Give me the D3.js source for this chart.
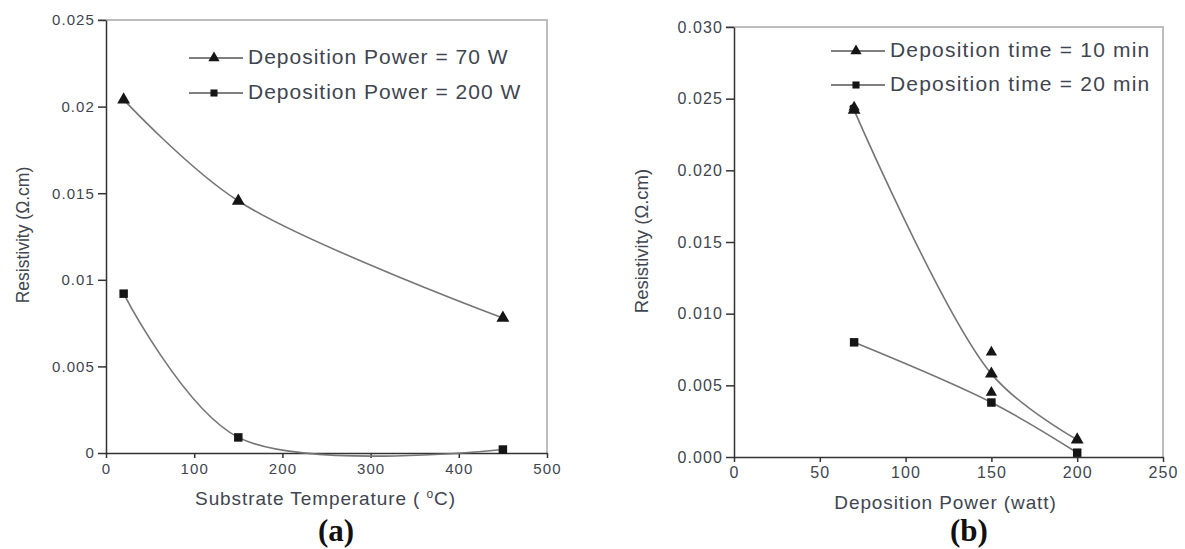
<!DOCTYPE html>
<html>
<head>
<meta charset="utf-8">
<script src="https://cdn.jsdelivr.net/npm/d3@7"></script>
<style>
    body { margin: 0; background: #fff; }
    svg text { font-family: "Liberation Sans", Arial, sans-serif; }
</style>
</head>
<body>
<svg class="Fig" width="1185" height="549"></svg>
<script>
// Panel (a): resistivity vs substrate temperature
const tempC = [20, 150, 450];
const rhoPower70 = [0.0204, 0.01455, 0.0078];
const rhoPower200 = [0.0092, 0.0009, 0.0002];
const aXTicks = [0, 100, 200, 300, 400, 500];
const aYTicks = [0, 0.005, 0.01, 0.015, 0.02, 0.025];
const aYLabels = ["0", "0.005", "0.01", "0.015", "0.02", "0.025"];

// Panel (b): resistivity vs deposition power
const powerW = [70, 150, 200];
const rhoTime10 = [0.0242, 0.0058, 0.0012];
const rhoTime20 = [0.0080, 0.0038, 0.0003];
// repeated measurements drawn as loose triangles
const extraPower = [70, 150, 150];
const extraTime10 = [0.0244, 0.0073, 0.0045];
const bXTicks = [0, 50, 100, 150, 200, 250];
const bYTicks = [0, 0.005, 0.01, 0.015, 0.02, 0.025, 0.03];
const bYLabels = ["0.000", "0.005", "0.010", "0.015", "0.020", "0.025", "0.030"];

const svg = d3.select(".Fig");
const txtCol = "#40454f";

function drawPanel(p) {
    const x = d3.scaleLinear().domain(p.xDomain).range([p.left, p.right]);
    const y = d3.scaleLinear().domain(p.yDomain).range([p.bottom, p.top]);

    // light frame on top / right
    svg.append("path")
        .attr("d", `M${p.left - 8},${p.top}H${p.right}V${p.bottom}`)
        .attr("fill", "none")
        .attr("stroke", "#bdbdbd")
        .attr("stroke-width", 2);

    const xAxis = svg.append("g")
        .attr("transform", `translate(0,${p.bottom})`)
        .call(d3.axisBottom(x).tickValues(p.xTicks).tickSize(5).tickSizeOuter(0).tickPadding(5));
    const yAxis = svg.append("g")
        .attr("transform", `translate(${p.left},0)`)
        .call(d3.axisLeft(y).tickValues(p.yTicks).tickSize(8).tickSizeOuter(0).tickPadding(3)
            .tickFormat((d, i) => p.yLabels[i]));

    [xAxis, yAxis].forEach(g => {
        g.selectAll("path, line").attr("stroke", "#333").attr("stroke-width", 1.5);
        g.selectAll("text")
            .attr("fill", txtCol)
            .style("font-size", p.tickSize)
            .style("letter-spacing", "1.1px");
    });

    const line = d3.line()
        .x(d => x(d[0]))
        .y(d => y(d[1]))
        .curve(d3.curveCatmullRom);

    p.series.forEach(s => {
        const pts = p.xs.map((v, i) => [v, s.values[i]]);
        svg.append("path")
            .datum(pts)
            .attr("fill", "none")
            .attr("stroke", "#757575")
            .attr("stroke-width", 1.6)
            .attr("d", line);
        svg.selectAll(null)
            .data(pts)
            .enter().append("path")
            .attr("transform", d => `translate(${x(d[0])},${y(d[1])})`)
            .attr("d", d3.symbol().type(s.symbol).size(s.size))
            .attr("fill", "#151515");
    });

    if (p.extra) {
        svg.selectAll(null)
            .data(p.extra.xs.map((v, i) => [v, p.extra.values[i]]))
            .enter().append("path")
            .attr("transform", d => `translate(${x(d[0])},${y(d[1])})`)
            .attr("d", d3.symbol().type(d3.symbolTriangle).size(55))
            .attr("fill", "#151515");
    }

    // legend
    p.series.forEach((s, i) => {
        const ly = p.legend.y + i * p.legend.dy;
        svg.append("line")
            .attr("x1", p.legend.x).attr("x2", p.legend.x + 54)
            .attr("y1", ly).attr("y2", ly)
            .attr("stroke", "#555").attr("stroke-width", 1.5);
        svg.append("path")
            .attr("transform", `translate(${p.legend.x + 25},${ly})`)
            .attr("d", d3.symbol().type(s.symbol).size(s.symbol === d3.symbolSquare ? 50 : 55))
            .attr("fill", "#151515");
        svg.append("text")
            .attr("x", p.legend.x + 59)
            .attr("y", ly + 6)
            .attr("fill", txtCol)
            .style("font-size", "21px")
            .style("letter-spacing", p.legend.spacing)
            .text(s.name);
    });

    // axis titles
    const xt = svg.append("text")
        .attr("x", (p.left + p.right) / 2 + p.xTitleShift)
        .attr("y", p.xTitleY)
        .attr("text-anchor", "middle")
        .attr("fill", txtCol)
        .style("font-size", "19px")
        .style("letter-spacing", "0.9px");
    p.xTitle(xt);

    svg.append("text")
        .attr("transform", "rotate(-90)")
        .attr("x", -p.yTitleCy)
        .attr("y", p.yTitleX)
        .attr("text-anchor", "middle")
        .attr("dominant-baseline", "central")
        .attr("fill", txtCol)
        .style("font-size", p.yTitleSize)
        .text("Resistivity (\u03A9.cm)");

    svg.append("text")
        .attr("x", p.tagX)
        .attr("y", 541)
        .attr("text-anchor", "middle")
        .attr("fill", "#111")
        .style("font-family", "'Liberation Serif', 'Times New Roman', serif")
        .style("font-weight", "bold")
        .style("font-size", "31px")
        .text(p.tag);
}

drawPanel({
    left: 106, right: 547, top: 20, bottom: 453,
    xDomain: [0, 500], yDomain: [0, 0.025],
    xTicks: aXTicks, yTicks: aYTicks, yLabels: aYLabels, tickSize: "15px",
    xs: tempC,
    series: [
        { name: "Deposition Power = 70 W", values: rhoPower70, symbol: d3.symbolTriangle, size: 72 },
        { name: "Deposition Power = 200 W", values: rhoPower200, symbol: d3.symbolSquare, size: 72 }
    ],
    legend: { x: 189, y: 58, dy: 35, spacing: "1px" },
    xTitleY: 505, xTitleShift: -1,
    xTitle: t => {
        t.append("tspan").text("Substrate Temperature ( ");
        t.append("tspan").attr("dy", -7).style("font-size", "12px").text("o");
        t.append("tspan").attr("dy", 7).text("C)");
    },
    yTitleX: 23, yTitleCy: 235, yTitleSize: "17.5px",
    tag: "(a)", tagX: 336
});

drawPanel({
    left: 734, right: 1163, top: 27, bottom: 457,
    xDomain: [0, 250], yDomain: [0, 0.03],
    xTicks: bXTicks, yTicks: bYTicks, yLabels: bYLabels, tickSize: "16px",
    xs: powerW,
    series: [
        { name: "Deposition time = 10 min", values: rhoTime10, symbol: d3.symbolTriangle, size: 72 },
        { name: "Deposition time = 20 min", values: rhoTime20, symbol: d3.symbolSquare, size: 72 }
    ],
    extra: { xs: extraPower, values: extraTime10 },
    legend: { x: 831, y: 51, dy: 34, spacing: "1.2px" },
    xTitleY: 509, xTitleShift: -3,
    xTitle: t => t.text("Deposition Power (watt)"),
    yTitleX: 641, yTitleCy: 241, yTitleSize: "18.5px",
    tag: "(b)", tagX: 969
});

// stray marker below the legend of (b)
svg.append("circle")
    .attr("cx", 852).attr("cy", 107).attr("r", 2.5)
    .attr("fill", "#151515");
</script>
</body>
</html>
